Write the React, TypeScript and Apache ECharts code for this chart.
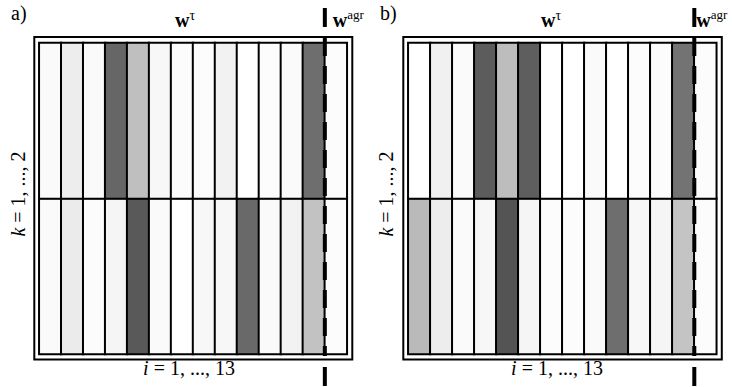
import React, { useEffect, useRef } from "react";
import * as echarts from "echarts";

// Columns: i = 1..13 plus the aggregated column
const COLUMNS = ["1", "2", "3", "4", "5", "6", "7", "8", "9", "10", "11", "12", "13", "agr"];
const ROWS = ["k1", "k2"];

// weights (0 = white, 1 = black)
const panelA_k2 = [0.02, 0.07, 0.02, 0.6, 0.25, 0.03, 0.01, 0.01, 0.05, 0.0, 0.01, 0.02, 0.57, 0.01];
const panelA_k1 = [0.02, 0.08, 0.01, 0.04, 0.65, 0.02, 0.0, 0.03, 0.03, 0.59, 0.02, 0.05, 0.24, 0.01];
const panelB_k2 = [0.0, 0.06, 0.02, 0.64, 0.26, 0.63, 0.0, 0.0, 0.02, 0.0, 0.01, 0.01, 0.55, 0.01];
const panelB_k1 = [0.27, 0.07, 0.02, 0.03, 0.67, 0.04, 0.01, 0.01, 0.02, 0.57, 0.03, 0.04, 0.23, 0.01];

const PANEL_LABELS = ["a)", "b)"];

const SERIF = "Liberation Serif, Times New Roman, serif";

function buildData(k1: number[], k2: number[]) {
  const out: number[][] = [];
  for (let i = 0; i < COLUMNS.length; i++) {
    out.push([i, 0, k1[i]]);
    out.push([i, 1, k2[i]]);
  }
  return out;
}

export default function App() {
  const ref = useRef<HTMLDivElement>(null);
  useEffect(() => {
    if (!ref.current) return;
    const chart = echarts.init(ref.current, undefined, { renderer: "svg" });

    const grids = [
      { left: 39.3, top: 43, width: 307.5, height: 311 },
      { left: 408.3, top: 43, width: 308, height: 311 },
    ];
    const labelShift = [0, 366];

    const graphics: any[] = [];
    grids.forEach((g, p) => {
      const cw = g.width / COLUMNS.length;
      const lineX = g.left + 13 * cw;
      const s = labelShift[p];
      // outer frame
      graphics.push({
        type: "rect",
        z: 100,
        shape: { x: g.left - 5, y: g.top - 6, width: g.width + 10.5, height: g.height + 11.5 },
        style: { fill: "none", stroke: "#000", lineWidth: 2 },
      });
      // dashed separator
      graphics.push({
        type: "line",
        z: 101,
        shape: { x1: lineX, y1: g.top - 5, x2: lineX, y2: g.top + g.height + 2 },
        style: { stroke: "#000", lineWidth: 4, lineDash: [18, 10] },
      });
      // top & bottom bars
      graphics.push({
        type: "rect",
        z: 101,
        shape: { x: lineX - 2, y: 8, width: 4, height: 19 },
        style: { fill: "#000" },
      });
      graphics.push({
        type: "rect",
        z: 101,
        shape: { x: lineX - 2, y: 367, width: 4, height: 19 },
        style: { fill: "#000" },
      });
      // panel label
      graphics.push({
        type: "text",
        z: 101,
        x: 11 + (p === 0 ? 0 : 369),
        y: 12.7,
        style: {
          text: PANEL_LABELS[p],
          fontFamily: SERIF,
          fontSize: 20,
          fill: "#000",
          verticalAlign: "middle",
          align: "left",
        },
      });
      // w^tau
      graphics.push({
        type: "text",
        z: 101,
        x: 175 + s,
        y: 20.2,
        style: {
          text: "w",
          fontFamily: SERIF,
          fontWeight: "bold",
          fontSize: 20,
          fill: "#000",
          verticalAlign: "middle",
          align: "left",
        },
      });
      graphics.push({
        type: "text",
        z: 101,
        x: 189.5 + s,
        y: 15.2,
        style: {
          text: "τ",
          fontFamily: SERIF,
          fontSize: 14,
          fill: "#000",
          verticalAlign: "middle",
          align: "left",
        },
      });
      // w^agr
      const wx = p === 0 ? lineX + 8 : lineX + 2;
      graphics.push({
        type: "text",
        z: 101,
        x: wx,
        y: 20.2,
        style: {
          text: "w",
          fontFamily: SERIF,
          fontWeight: "bold",
          fontSize: 20,
          fill: "#000",
          verticalAlign: "middle",
          align: "left",
        },
      });
      graphics.push({
        type: "text",
        z: 101,
        x: wx + 14.5,
        y: 14.1,
        style: {
          text: "agr",
          fontFamily: SERIF,
          fontSize: 13,
          fill: "#000",
          verticalAlign: "middle",
          align: "left",
        },
      });
      // i = 1, ..., 13
      graphics.push({
        type: "text",
        z: 101,
        x: 189 + (p === 0 ? 0 : 368),
        y: 368.2,
        style: {
          text: "{it|i} = 1, ..., 13",
          fontFamily: SERIF,
          fontSize: 20,
          fill: "#000",
          verticalAlign: "middle",
          align: "center",
          rich: {
            it: { fontFamily: SERIF, fontSize: 20, fontStyle: "italic", fill: "#000" },
          },
        },
      });
      // k = 1, ..., 2
      graphics.push({
        type: "text",
        z: 101,
        x: 17.5 + (p === 0 ? 0 : 368),
        y: 194,
        rotation: Math.PI / 2,
        style: {
          text: "{it|k} = 1, ..., 2",
          fontFamily: SERIF,
          fontSize: 20,
          fill: "#000",
          verticalAlign: "middle",
          align: "center",
          rich: {
            it: { fontFamily: SERIF, fontSize: 20, fontStyle: "italic", fill: "#000" },
          },
        },
      });
    });

    chart.setOption({
      animation: false,
      backgroundColor: "#ffffff",
      grid: grids,
      xAxis: grids.map((_, i) => ({
        type: "category",
        data: COLUMNS,
        gridIndex: i,
        show: false,
      })),
      yAxis: grids.map((_, i) => ({
        type: "category",
        data: ROWS,
        gridIndex: i,
        show: false,
      })),
      visualMap: [
        {
          type: "continuous",
          show: false,
          min: 0,
          max: 1,
          seriesIndex: [0, 1],
          inRange: { color: ["#ffffff", "#000000"] },
        },
      ],
      series: [
        {
          type: "heatmap",
          xAxisIndex: 0,
          yAxisIndex: 0,
          data: buildData(panelA_k1, panelA_k2),
          itemStyle: { borderColor: "#000", borderWidth: 2 },
          emphasis: { disabled: true },
        },
        {
          type: "heatmap",
          xAxisIndex: 1,
          yAxisIndex: 1,
          data: buildData(panelB_k1, panelB_k2),
          itemStyle: { borderColor: "#000", borderWidth: 2 },
          emphasis: { disabled: true },
        },
      ],
      graphic: graphics,
    });
    return () => chart.dispose();
  }, []);

  return (
    <div
      ref={ref}
      style={{ position: "fixed", left: 0, top: 0, width: 732, height: 387 }}
    />
  );
}
